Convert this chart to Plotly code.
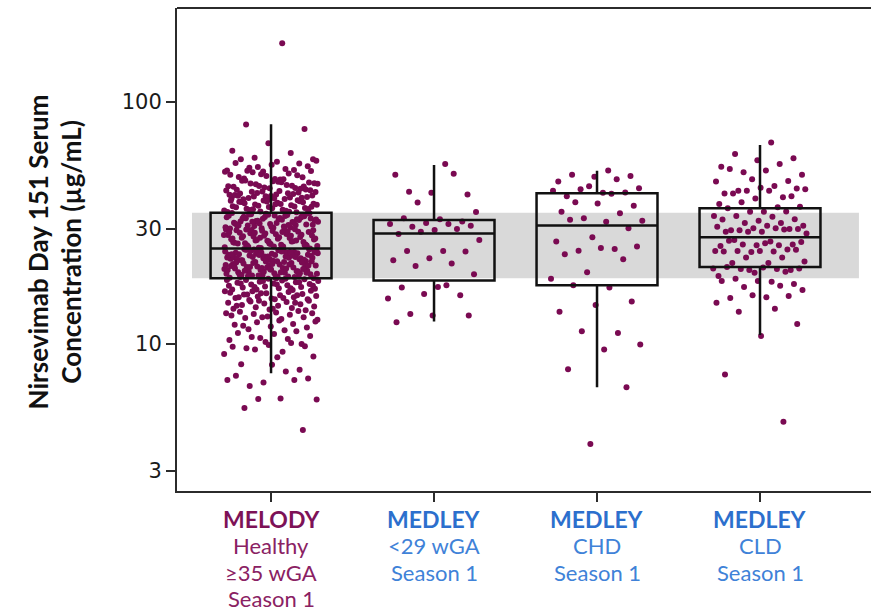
import plotly.graph_objects as go

# ---- categories ----
group_names = ["MELODY", "MEDLEY", "MEDLEY", "MEDLEY"]
group_details = [["Healthy", "≥35 wGA", "Season 1"], ["&lt;29 wGA", "Season 1"],
                 ["CHD", "Season 1"], ["CLD", "Season 1"]]

# ---- box statistics (µg/mL) ----
q1 = [18.7, 18.3, 17.5, 20.8]
median = [24.8, 28.6, 30.9, 27.6]
q3 = [34.9, 32.5, 42.0, 36.4]
whisker_low = [7.57, 12.4, 6.62, 10.9]
whisker_high = [80.9, 54.9, 52.0, 66.4]

# ---- y axis ticks ----
tick_values = [3, 10, 30, 100]

# ---- individual Day 151 concentrations (µg/mL) ----
melody_vals = [
    175, 80.8, 77.4, 67.6, 62.9, 61.5, 58.9, 58.0, 56.7, 58.0, 55.7, 51.6, 52.1,
    52.8, 53.5, 54.2, 55.1, 56.0, 52.3, 53.9, 57.2,
    47.8, 48.3, 48.9, 49.4, 50.0, 50.6, 51.2, 51.9, 48.1, 49.0, 49.8, 50.3, 51.5, 47.9, 52.0,
    43.5, 44.0, 44.6, 45.1, 45.7, 46.2, 46.8, 47.3, 43.8, 44.3, 44.9, 45.4, 46.0, 46.5, 47.0,
    43.4, 44.1, 45.0, 45.9, 46.6, 47.4, 44.7,
    39.5, 39.9, 40.3, 40.7, 41.1, 41.5, 41.9, 42.3, 42.7, 43.1, 39.7, 40.1, 40.5, 40.9, 41.3,
    41.7, 42.1, 42.5, 42.9, 39.6, 40.2, 40.8, 41.4, 42.0, 42.6, 43.2, 40.0, 41.0,
    35.0, 35.3, 35.6, 35.9, 36.2, 36.5, 36.8, 37.1, 37.4, 37.7, 38.0, 38.3, 38.6, 38.9, 39.2,
    35.1, 35.5, 35.8, 36.1, 36.4, 36.7, 37.0, 37.3, 37.6, 37.9, 38.2, 38.5, 38.8, 39.1, 35.2,
    36.0, 36.9, 37.8, 38.7, 39.3,
    30.1, 30.4, 30.6, 30.9, 31.2, 31.3, 31.7, 31.9, 32.2, 32.4, 32.8, 33.0, 33.3, 33.5, 33.9,
    34.1, 34.4, 34.7, 30.2, 30.8, 31.0, 31.5, 32.0, 32.6, 33.1, 33.7, 34.2, 34.8, 30.3, 30.7,
    31.1, 31.6, 32.1, 32.5, 32.9, 33.4, 33.8, 34.3, 34.6, 30.5, 31.4, 31.8, 32.3, 32.7, 33.2,
    33.6, 34.0, 34.5, 30.0, 31.0, 32.0, 33.0, 34.0, 30.9, 32.8,
    24.9, 25.1, 25.3, 25.6, 25.8, 26.0, 26.3, 26.5, 26.8, 27.0, 27.2, 27.5, 27.7, 28.0, 28.2,
    28.5, 28.7, 29.0, 29.3, 29.5, 29.8, 25.0, 25.4, 25.7, 26.1, 26.4, 26.7, 27.1, 27.4, 27.8,
    28.1, 28.4, 28.8, 29.1, 29.4, 29.7, 29.9, 25.2, 25.5, 25.9, 26.2, 26.6, 26.9, 27.3, 27.6,
    27.9, 28.3, 28.6, 28.9, 29.2, 29.6, 24.8, 25.3, 26.0, 26.8, 27.5, 28.2, 29.0, 29.7, 25.6,
    26.5, 27.3, 28.0, 28.8, 29.5,
    22.0, 22.2, 22.4, 22.6, 22.8, 23.0, 23.2, 23.4, 23.6, 23.8, 24.0, 24.2, 24.4, 24.6, 24.7,
    22.1, 22.3, 22.5, 22.7, 22.9, 23.1, 23.3, 23.5, 23.7, 23.9, 24.1, 24.3, 24.5, 22.0, 22.4,
    22.8, 23.2, 23.6, 24.0, 24.4, 22.2, 22.6, 23.0, 23.4, 23.8, 24.2, 24.6, 22.1, 22.5, 22.9,
    23.3, 23.7, 24.1, 24.5, 22.3, 23.0, 23.5, 24.0, 24.6, 22.7,
    18.7, 18.9, 19.1, 19.3, 19.5, 19.7, 19.9, 20.1, 20.3, 20.5, 20.7, 20.9, 21.1, 21.3, 21.5,
    21.7, 21.9, 18.8, 19.0, 19.2, 19.4, 19.6, 19.8, 20.0, 20.2, 20.4, 20.6, 20.8, 21.0, 21.2,
    21.4, 21.6, 21.8, 18.7, 19.0, 19.3, 19.6, 19.9, 20.2, 20.5, 20.8, 21.1, 21.4, 21.7, 18.9,
    19.2, 19.5, 19.8, 20.1, 20.4, 20.7, 21.0, 21.3, 21.6, 21.9, 18.8, 19.4, 20.0, 20.6, 21.2,
    21.8, 19.1, 19.7, 20.3, 20.9,
    16.7, 16.8, 16.9, 17.0, 17.1, 17.2, 17.3, 17.4, 17.5, 17.6, 17.7, 17.8, 17.9, 18.0, 18.1,
    18.2, 18.3, 18.4, 18.5, 18.6, 16.8, 17.0, 17.2, 17.4, 17.6, 17.8, 18.0, 18.2, 18.4, 18.6,
    15.2, 15.3, 15.4, 15.5, 15.6, 15.7, 15.8, 15.9, 16.0, 16.1, 16.2, 16.3, 16.4, 16.5, 16.6,
    15.3, 15.6, 15.9, 16.2, 16.5, 15.5, 16.0,
    13.8, 13.9, 14.0, 14.1, 14.2, 14.3, 14.4, 14.5, 14.6, 14.7, 14.8, 14.9, 15.0, 15.1, 14.0,
    14.4, 14.8, 15.1,
    12.6, 12.7, 12.8, 12.9, 13.0, 13.1, 13.2, 13.3, 13.4, 13.5, 13.6, 13.7, 12.9, 13.4,
    11.4, 11.5, 11.7, 11.8, 12.0, 12.1, 12.3, 12.4, 12.5, 11.9,
    10.0, 10.2, 10.4, 10.5, 10.7, 10.8, 11.0, 11.1, 11.3, 10.6,
    9.1, 9.3, 9.6, 9.8, 9.9,
    9.75, 10.1, 9.5, 8.87, 8.81, 8.25, 7.83, 6.93, 7.1, 7.7, 6.7, 7.2, 8.2, 7.4, 7.1,
    5.92, 5.9, 5.95, 5.44, 4.41,
]

medley_preterm_vals = [
    55.4, 42.6, 41.5, 42.2, 50.0, 50.5, 38.4, 35.1, 32.8, 33.1, 32.1, 31.6, 31.3, 31.3,
    30.5, 30.8, 29.6, 28.5, 29.9, 29.1, 26.9, 24.2, 24.2, 24.1, 22.6, 22.2, 21.5, 21.0,
    19.4, 17.2, 17.1, 15.9, 16.1, 15.4, 17.5, 13.3, 13.1, 13.1, 12.3,
]

medley_chd_vals = [
    52.1, 50.0, 49.5, 49.1, 46.9, 48.0, 43.6, 44.0, 42.2, 40.8, 42.3, 44.9, 43.0, 41.8,
    38.5, 37.3, 38.1, 35.2, 34.7, 33.1, 32.3, 32.0, 32.6, 30.1, 27.6, 26.5, 24.7, 24.3,
    25.3, 24.9, 23.5, 22.4, 19.8, 18.6, 17.1, 17.5, 15.0, 14.5, 13.6, 11.1, 11.3, 9.95,
    9.5, 7.86, 6.62, 3.86,
]

medley_cld_vals = [
    68.0, 61.0, 58.5, 57.5, 54.0,
    55.4, 51.2, 50.1, 52.1, 52.9, 47.2, 48.0, 46.9, 45.0, 43.0, 43.9, 44.2, 41.9, 40.4,
    43.0, 43.6, 43.0, 41.9, 40.8, 39.9, 37.9, 36.7, 38.5, 36.9, 35.2, 36.4, 35.3, 35.2,
    33.8, 33.6, 33.8, 32.8, 32.3, 32.7, 31.6, 31.6, 30.8, 30.8, 29.5, 29.9, 30.1, 30.5,
    30.1, 29.5, 29.9, 29.1, 29.1, 29.7, 29.1, 28.6, 26.5, 26.9, 25.8, 25.6, 25.4, 25.6,
    25.8, 26.4, 26.1, 26.7, 24.6, 24.0, 24.2, 24.1, 24.2, 24.5, 24.2, 24.1, 22.8, 22.8,
    21.9, 21.6, 21.6, 20.2, 19.7, 19.1, 20.4, 20.4, 20.5, 20.7, 20.8, 19.9, 20.2, 20.5,
    18.1, 18.6, 17.7, 18.2, 18.2, 17.4, 17.2, 16.7, 15.6, 15.5, 15.8, 15.9, 14.8, 14.0,
    13.6, 12.1, 10.8, 7.49, 4.77,
]

group_values = [melody_vals, medley_preterm_vals, medley_chd_vals, medley_cld_vals]

# ---- styling ----
POINT_COLOR = "#7a0a52"
NAME_COLORS = ["#7d1257", "#2c6fcd", "#2c6fcd", "#2c6fcd"]
DETAIL_COLORS = ["#8a2163", "#3f82d8", "#3f82d8", "#3f82d8"]
AXIS_COLOR = "#2b2b2b"
BOX_WIDTH = 0.742
JITTER_HALF = 0.29
GOLDEN = 0.6180339887

W, H = 871, 612
M_L, M_R, M_T, M_B = 177, 0, 8, 121
PLOT_H = H - M_T - M_B
LABEL_TOP_PX = 519      # centre of first category label line (page pixels)
LABEL_STEP_PX = 26.5    # spacing between category label lines
NAME_SIZE, DETAIL_SIZE = 23, 22

positions = list(range(len(group_names)))

# jittered x for every observation (deterministic spread around the group centre)
pts_x, pts_y = [], []
for pos, vals in zip(positions, group_values):
    for k, v in enumerate(vals):
        frac = ((k + 1) * GOLDEN) % 1.0
        pts_x.append(pos + (frac - 0.5) * 2 * JITTER_HALF)
        pts_y.append(v)

fig = go.Figure()

# individual subjects
fig.add_trace(go.Scatter(
    x=pts_x, y=pts_y, mode="markers",
    marker=dict(color=POINT_COLOR, size=6, line=dict(width=0)),
    hoverinfo="y", showlegend=False,
))

# box-and-whisker summaries, on an overlaid subplot so the outlines sit above the points
fig.add_trace(go.Box(
    x=positions, q1=q1, median=median, q3=q3,
    lowerfence=whisker_low, upperfence=whisker_high,
    width=BOX_WIDTH, whiskerwidth=0, boxpoints=False,
    line=dict(color="#111111", width=2.5),
    fillcolor="rgba(0,0,0,0)",
    xaxis="x2", yaxis="y2", showlegend=False, hoverinfo="skip",
))

# shaded band: MELODY interquartile range
fig.add_shape(type="rect", xref="x", yref="y",
              x0=-0.485, x1=3.607, y0=q1[0], y1=q3[0],
              fillcolor="#d9d9d9", line=dict(width=0), layer="below")

# top frame line
fig.add_shape(type="line", xref="paper", yref="paper", x0=0, x1=1, y0=1, y1=1,
              line=dict(color=AXIS_COLOR, width=2))

# category labels, one annotation per line for tight line spacing
def px_to_paper_y(py):
    return (H - M_B - py) / PLOT_H

annotations = []
for pos, name, details, nc, dc in zip(positions, group_names, group_details,
                                      NAME_COLORS, DETAIL_COLORS):
    lines = [(f"<b>{name}</b>", nc, NAME_SIZE)] + [(d, dc, DETAIL_SIZE) for d in details]
    for j, (txt, col, size) in enumerate(lines):
        annotations.append(dict(
            text=txt, x=pos, xref="x", y=px_to_paper_y(LABEL_TOP_PX + j * LABEL_STEP_PX),
            yref="paper", xanchor="center", yanchor="middle", showarrow=False,
            borderpad=0, font=dict(family="Lato", size=size, color=col),
        ))

# y-axis title
annotations.append(dict(
    text="<b>Nirsevimab Day 151 Serum<br>Concentration (µg/mL)</b>",
    textangle=-90, xref="paper", yref="paper",
    x=(55 - M_L) / (W - M_L - M_R), y=0.494, xanchor="center", yanchor="middle",
    showarrow=False, font=dict(family="Lato", size=26, color="#111111"),
))

x_range = [-0.577, 3.681]
y_range = [0.3926, 2.3884]

fig.update_layout(
    width=W, height=H,
    margin=dict(l=M_L, r=M_R, t=M_T, b=M_B, autoexpand=False),
    paper_bgcolor="white", plot_bgcolor="white",
    font=dict(family="Lato", color="#111111"),
    xaxis=dict(
        range=x_range, tickmode="array", tickvals=positions, showticklabels=False,
        ticks="outside", ticklen=9, tickwidth=2, tickcolor=AXIS_COLOR,
        showline=True, linecolor=AXIS_COLOR, linewidth=2,
        showgrid=False, zeroline=False, automargin=False,
    ),
    yaxis=dict(
        type="log", range=y_range, tickmode="array", tickvals=tick_values,
        ticktext=[str(v) for v in tick_values],
        ticks="outside", ticklen=9, tickwidth=2, tickcolor=AXIS_COLOR,
        showline=True, linecolor=AXIS_COLOR, linewidth=2,
        showgrid=False, zeroline=False, automargin=False,
        tickfont=dict(family="DejaVu Sans", size=21, color="#1a1a1a"),
    ),
    xaxis2=dict(range=x_range, overlaying="x", visible=False),
    yaxis2=dict(type="log", range=y_range, overlaying="y", visible=False),
    annotations=annotations,
)

fig.write_html("out.html")
